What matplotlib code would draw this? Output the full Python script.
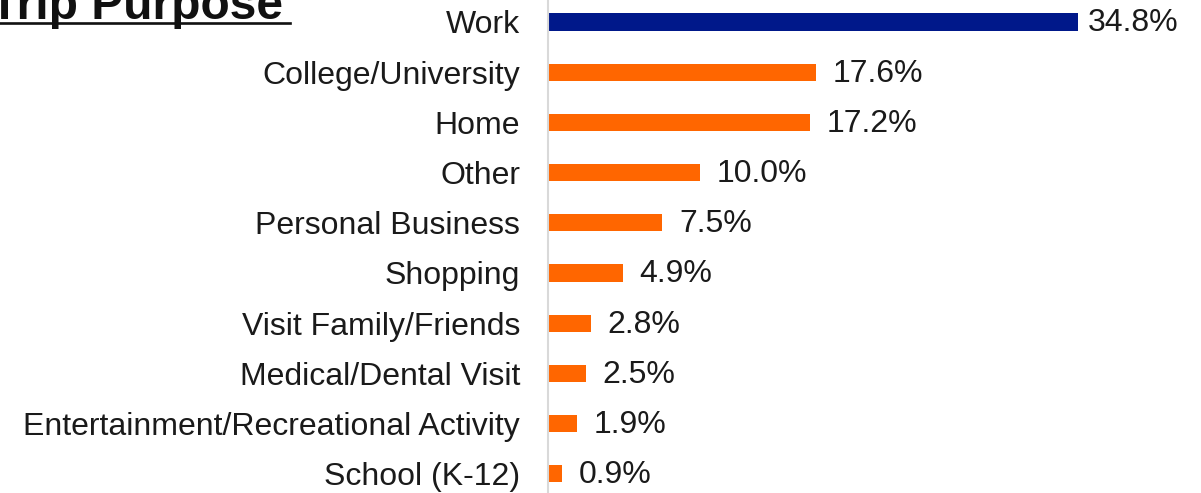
import matplotlib.pyplot as plt
from matplotlib.lines import Line2D

plt.rcParams['font.family'] = ['Liberation Sans', 'DejaVu Sans']

categories = ["Work", "College/University", "Home", "Other", "Personal Business",
              "Shopping", "Visit Family/Friends", "Medical/Dental Visit",
              "Entertainment/Recreational Activity", "School (K-12)"]
values = [34.8, 17.6, 17.2, 10.0, 7.5, 4.9, 2.8, 2.5, 1.9, 0.9]
colors = ["#00188A"] + ["#FF6600"] * 9

W, H = 1201, 493
fig = plt.figure(figsize=(W / 100, H / 100), dpi=100)

# axes placed in pixel terms: bar 0 centre at y=22, spacing ~50.2 px
left_px = 548
px_per_pct = 530 / 34.8
right_px = W
sp = 50.2
top_px = 22 - sp / 2
bot_px = top_px + sp * len(categories)
ax = fig.add_axes([left_px / W, 1 - bot_px / H, (right_px - left_px) / W, (bot_px - top_px) / H])

y = list(range(len(categories)))
ax.barh(y, values, height=0.34, color=colors)
ax.set_ylim(len(categories) - 0.5, -0.5)
ax.set_xlim(0, (right_px - left_px) / px_per_pct)

ax.set_yticks(y)
ax.set_yticklabels(categories, fontsize=23, color="#1a1a1a")
ax.tick_params(axis="y", length=0, pad=20)
ax.set_xticks([])
for s in ["top", "right", "bottom"]:
    ax.spines[s].set_visible(False)
ax.spines["left"].set_color("#d9d9d9")
ax.spines["left"].set_linewidth(1.5)

vmax = max(values)
for yi, v in zip(y, values):
    # the longest bar's label sits closer so it fits at the right edge
    dx = 7 if v == vmax else 12
    ax.annotate(f"{v:.1f}%", (v, yi), xytext=(dx, -1), textcoords="offset points",
                va="center", ha="left", fontsize=23, color="#1a1a1a")

# cropped title at top left, bold and underlined
fig.text(-10 / W, 1 - 19 / H, "Trip Purpose", fontsize=34.5, fontweight="bold",
         ha="left", va="baseline", color="#111111")
fig.add_artist(Line2D([0, 290 / W], [1 - 22.5 / H, 1 - 22.5 / H],
                      transform=fig.transFigure, color="#111111", linewidth=1.9))

fig.savefig("out.png", dpi=100)
